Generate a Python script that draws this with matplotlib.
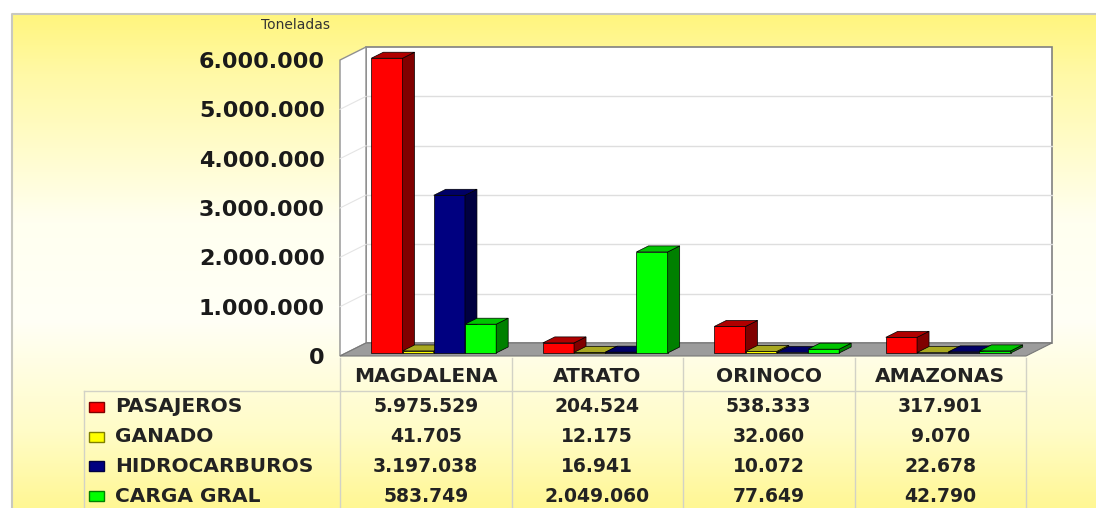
import numpy as np
import matplotlib
matplotlib.use("Agg")
import matplotlib.pyplot as plt
from matplotlib.patches import Polygon, Rectangle
from matplotlib.colors import LinearSegmentedColormap
from matplotlib.ticker import FuncFormatter

# toneladas movilizadas por cuenca fluvial
rios = ["MAGDALENA", "ATRATO", "ORINOCO", "AMAZONAS"]
series = ["PASAJEROS", "GANADO", "HIDROCARBUROS", "CARGA GRAL"]
pasajeros = [5975529, 204524, 538333, 317901]
ganado = [41705, 12175, 32060, 9070]
hidrocarburos = [3197038, 16941, 10072, 22678]
carga_gral = [583749, 2049060, 77649, 42790]
yticks = [0, 1000000, 2000000, 3000000, 4000000, 5000000, 6000000]

front_col = ["#ff0000", "#ffff00", "#000080", "#00ff00"]
side_col = ["#800000", "#808000", "#000040", "#008000"]
top_col = ["#b00000", "#a8a820", "#000066", "#00c400"]

W, H = 1096, 508
fig = plt.figure(figsize=(W / 100, H / 100), dpi=100)


def fx(px):
    return px / W


def fy(py):
    return 1 - py / H


def miles(v):
    return f"{int(v):,}".replace(",", ".")


# fondo amarillo degradado
bg = fig.add_axes([0, 0, 1, 1], zorder=-5)
panel = LinearSegmentedColormap.from_list("panel", [
    (0.0, "#fff57e"), (0.12, "#fff9a6"), (0.42, "#fffff0"),
    (0.62, "#fffff6"), (0.85, "#fffcc6"), (1.0, "#fff794")])
bg.imshow(np.linspace(0, 1, 256).reshape(-1, 1), cmap=panel, aspect="auto",
          extent=(12, W, H, 14), zorder=0)
bg.plot([12, 12, W], [H, 14, 14], color="#c8c8c0", lw=1.5, zorder=1)
bg.set_xlim(0, W)
bg.set_ylim(H, 0)
bg.axis("off")

# plano frontal del grafico
X0, X1, Y0 = 340, 1026, 356
px_per_m = 49.33
ytop = 6.4e6
ax_top = Y0 - ytop / 1e6 * px_per_m
ax = fig.add_axes([fx(X0), fy(Y0), fx(X1) - fx(X0), (Y0 - ax_top) / H])
n = len(rios)
ax.set_xlim(0, n)
ax.set_ylim(0, ytop)
cat_px = (X1 - X0) / n
val_px = px_per_m / 1e6


def dxy(right, up):
    return right / cat_px, up / val_px


# paredes y piso
wdx, wdy = dxy(26, 13)
wall_top = yticks[-1]
ax.add_patch(Rectangle((wdx, wdy), n, wall_top, fc="white", ec="#808080", lw=1.2,
                       zorder=1, clip_on=False))
for v in yticks[1:-1]:
    ax.plot([wdx, n + wdx], [v + wdy, v + wdy], color="#dedede", lw=1, zorder=1.5,
            clip_on=False)
ax.add_patch(Polygon([(0, 0), (wdx, wdy), (wdx, wall_top + wdy), (0, wall_top)],
                     fc="white", ec="#909090", lw=1, zorder=2, clip_on=False))
for v in yticks[1:-1]:
    ax.plot([0, wdx], [v, v + wdy], color="#e4e4e4", lw=0.8, zorder=2.1, clip_on=False)
ax.add_patch(Polygon([(0, 0), (n, 0), (n + wdx, wdy), (wdx, wdy)],
                     fc="#9c9c9c", ec="#787878", lw=0.8, zorder=2.5, clip_on=False))

# barras con caras laterales y superiores
values = [pasajeros, ganado, hidrocarburos, carga_gral]
bw = 0.182
sdx, sdy = dxy(8, 3)
bdx, bdy = dxy(12, 6)
z = 5
for j in range(n):
    for i in range(len(series)):
        v = values[i][j]
        x = j + 0.5 + (i - 2) * bw + sdx
        ax.bar(x, v, width=bw, bottom=sdy, align="edge", color=front_col[i],
               edgecolor="black", lw=0.5, zorder=z, clip_on=False)
        ax.add_patch(Polygon([(x + bw, sdy), (x + bw + bdx, sdy + bdy),
                              (x + bw + bdx, sdy + v + bdy), (x + bw, sdy + v)],
                             fc=side_col[i], ec="black", lw=0.5, zorder=z, clip_on=False))
        ax.add_patch(Polygon([(x, sdy + v), (x + bdx, sdy + v + bdy),
                              (x + bw + bdx, sdy + v + bdy), (x + bw, sdy + v)],
                             fc=top_col[i], ec="black", lw=0.5, zorder=z, clip_on=False))
        z += 1

ax.set_yticks(yticks)
ax.yaxis.set_major_formatter(FuncFormatter(lambda v, p: miles(v)))
ax.set_xticks([])
ax.tick_params(axis="y", length=0, pad=11, labelsize=16, labelcolor="#1a1a1a")
for lab in ax.get_yticklabels():
    lab.set_fontweight("bold")
for s in ax.spines.values():
    s.set_visible(False)
ax.patch.set_visible(False)

bg.text(330, 25, "Toneladas", ha="right", va="center", fontsize=10, color="#333333")

# tabla de datos
line_col = "#d2d2c6"
for k in range(n + 1):
    bg.plot([X0 + cat_px * k] * 2, [358, H], color=line_col, lw=1, zorder=2)
bg.plot([84, X1], [391, 391], color=line_col, lw=1, zorder=2)
bg.plot([84, 84], [391, H], color=line_col, lw=1, zorder=2)

for j, rio in enumerate(rios):
    bg.text(X0 + cat_px * (j + 0.5), 376, rio, ha="center", va="center",
            fontsize=14.5, fontweight="bold", color="#222222", zorder=3)

row_y = [407, 437, 466, 496]
for i, name in enumerate(series):
    bg.add_patch(Rectangle((89, row_y[i] - 5), 15, 10, fc=front_col[i],
                           ec=side_col[i], lw=1, zorder=3))
    bg.text(115, row_y[i], name, ha="left", va="center", fontsize=14.5,
            fontweight="bold", color="#222222", zorder=3)
    for j in range(n):
        bg.text(X0 + cat_px * (j + 0.5), row_y[i], miles(values[i][j]),
                ha="center", va="center", fontsize=13.5, fontweight="bold",
                color="#222222", zorder=3)

fig.savefig("out.png", dpi=100)
